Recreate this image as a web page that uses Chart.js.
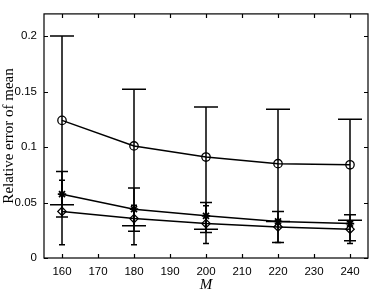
<!DOCTYPE html>
<html>
<head>
<meta charset="utf-8">
<script src="https://cdn.jsdelivr.net/npm/chart.js@4/dist/chart.umd.min.js"></script>
<style>
  html, body { margin: 0; padding: 0; background: #fff; }
  #wrap { width: 374px; height: 290px; }
</style>
</head>
<body>
<div id="wrap"><canvas id="errChart" width="374" height="290"></canvas></div>
<script>
// Sample sizes on the x axis
const mValues = [160, 180, 200, 220, 240];

// Circle series (top)
const circleMean  = [0.124, 0.101, 0.091, 0.085, 0.084];
const circleUpper = [0.200, 0.152, 0.136, 0.134, 0.125];
const circleLower = [0.048, 0.029, 0.026, 0.033, 0.034];

// Star series (middle)
const starMean  = [0.0575, 0.044, 0.038, 0.033, 0.031];
const starUpper = [0.078, 0.063, 0.050, 0.042, 0.039];
const starLower = [0.037, 0.024, 0.023, 0.014, 0.0155];

// Diamond series (bottom)
const diamondMean  = [0.042, 0.0355, 0.031, 0.028, 0.026];
const diamondUpper = [0.070, 0.0475, 0.047, 0.034, 0.033];
const diamondLower = [0.012, 0.012, 0.013, 0.014, 0.013];

const yTicks = [0, 0.05, 0.1, 0.15, 0.2];
const xTicks = [160, 170, 180, 190, 200, 210, 220, 230, 240];

function toPoints(means) {
    return mValues.map((m, i) => ({ x: m, y: means[i] }));
}

// Draw vertical error bars with caps using chart scales
const errorBars = {
    id: 'errorBars',
    beforeDatasetsDraw(chart) {
        const { ctx, scales: { x, y } } = chart;
        ctx.save();
        ctx.strokeStyle = '#000';
        ctx.lineWidth = 1.5;
        chart.data.datasets.forEach(ds => {
            ds.errLow.forEach((lo, i) => {
                const px = x.getPixelForValue(mValues[i]);
                const pl = y.getPixelForValue(lo);
                const pu = y.getPixelForValue(ds.errHigh[i]);
                const c = ds.capHalf;
                ctx.beginPath();
                ctx.moveTo(px, pl); ctx.lineTo(px, pu);
                ctx.moveTo(px - c, pl); ctx.lineTo(px + c, pl);
                ctx.moveTo(px - c, pu); ctx.lineTo(px + c, pu);
                ctx.stroke();
            });
        });
        ctx.restore();
    }
};

// Box round the plot and inward ticks on all four sides
const boxTicks = {
    id: 'boxTicks',
    afterDraw(chart) {
        const { ctx, chartArea: a, scales: { x, y } } = chart;
        const len = 4;
        ctx.save();
        ctx.strokeStyle = '#000';
        ctx.lineWidth = 1.2;
        ctx.strokeRect(a.left, a.top, a.right - a.left, a.bottom - a.top);
        ctx.beginPath();
        xTicks.forEach(v => {
            const px = Math.round(x.getPixelForValue(v)) + 0.5;
            ctx.moveTo(px, a.bottom); ctx.lineTo(px, a.bottom - len);
            ctx.moveTo(px, a.top); ctx.lineTo(px, a.top + len);
        });
        yTicks.forEach(v => {
            const py = Math.round(y.getPixelForValue(v)) + 0.5;
            ctx.moveTo(a.left, py); ctx.lineTo(a.left + len, py);
            ctx.moveTo(a.right, py); ctx.lineTo(a.right - len, py);
        });
        ctx.stroke();
        ctx.restore();
    }
};

const common = {
    borderColor: '#000',
    backgroundColor: 'rgba(0,0,0,0)',
    borderWidth: 1.5,
    pointBorderWidth: 1.3,
    pointRadius: 4.2,
    pointBorderColor: '#000',
    pointBackgroundColor: 'rgba(0,0,0,0)',
    tension: 0,
    fill: false
};

new Chart(document.getElementById('errChart'), {
    type: 'line',
    data: {
        datasets: [
            Object.assign({}, common, { label: 'circle', data: toPoints(circleMean), pointStyle: 'circle',
                errLow: circleLower, errHigh: circleUpper, capHalf: 12 }),
            Object.assign({}, common, { label: 'star', data: toPoints(starMean), pointStyle: 'star',
                pointBorderWidth: 1.8, errLow: starLower, errHigh: starUpper, capHalf: 6 }),
            Object.assign({}, common, { label: 'diamond', data: toPoints(diamondMean), pointStyle: 'rectRot',
                errLow: diamondLower, errHigh: diamondUpper, capHalf: 3 })
        ]
    },
    options: {
        responsive: false,
        animation: false,
        layout: { padding: { top: 2, right: 2, left: 0, bottom: 0 } },
        plugins: { legend: { display: false }, tooltip: { enabled: false } },
        scales: {
            x: {
                type: 'linear',
                min: 155,
                max: 245,
                grid: { display: false, drawTicks: false },
                border: { display: false },
                afterBuildTicks: s => { s.ticks = xTicks.map(v => ({ value: v })); },
                afterFit: s => { s.height = 32; },
                ticks: {
                    padding: 7,
                    color: '#000',
                    font: { family: 'Liberation Sans', size: 11.5 },
                    maxRotation: 0
                },
                title: {
                    display: true,
                    text: 'M',
                    color: '#000',
                    font: { family: 'Liberation Serif', size: 15, style: 'italic' },
                    padding: { top: 0, bottom: -4 }
                }
            },
            y: {
                min: 0,
                max: 0.22,
                grid: { display: false, drawTicks: false },
                border: { display: false },
                afterBuildTicks: s => { s.ticks = yTicks.map(v => ({ value: v })); },
                afterFit: s => { s.width = 44; },
                ticks: {
                    padding: 7,
                    color: '#000',
                    font: { family: 'Liberation Sans', size: 11.5 },
                    callback: v => String(+v.toFixed(2))
                },
                title: {
                    display: true,
                    text: 'Relative error of mean',
                    color: '#000',
                    font: { family: 'Liberation Serif', size: 15 },
                    padding: { top: 0, bottom: 0 }
                }
            }
        }
    },
    plugins: [errorBars, boxTicks]
});
</script>
</body>
</html>
